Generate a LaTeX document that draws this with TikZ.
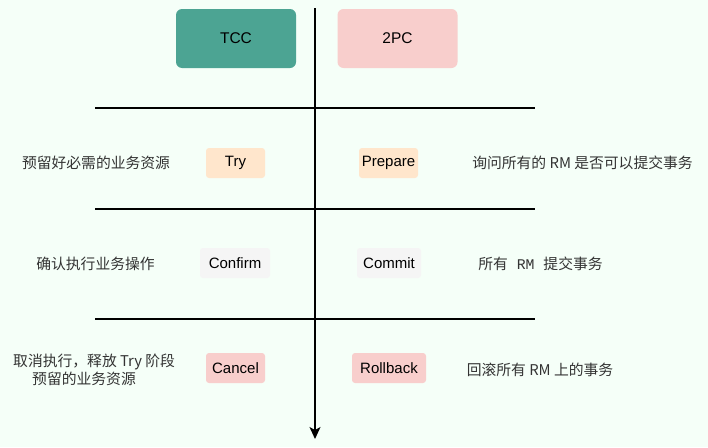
\documentclass[tikz,border=0pt]{standalone}
\usepackage{fontspec}
\setmainfont{Liberation Sans}
\setmonofont{Liberation Mono}
\newfontfamily\cjk{Noto Sans CJK SC}
\usetikzlibrary{arrows.meta}
\definecolor{bgc}{HTML}{F5FFF8}
\definecolor{tealc}{HTML}{4CA493}
\definecolor{pinkc}{HTML}{F8CECC}
\definecolor{peachc}{HTML}{FFE6CC}
\definecolor{grayc}{HTML}{F5F5F5}
\definecolor{txtc}{HTML}{333333}
\tikzset{
  head/.style={rounded corners=6pt, minimum width=120pt, minimum height=59pt, inner sep=0pt, font=\fontsize{15.5}{18}\selectfont},
  opbox/.style={rounded corners=3pt, minimum height=30pt, inner sep=0pt, font=\fontsize{15}{18}\selectfont},
  desc/.style={font=\cjk\fontsize{14.8}{18.5}\selectfont, text=txtc, align=center, inner sep=0pt},
  sep/.style={line width=1.4pt},
}
\begin{document}
\begin{tikzpicture}[x=1pt,y=-1pt]
\fill[bgc] (0,0) rectangle (708,447);
\useasboundingbox (0,0) rectangle (708,447);
% headers
\node[head, fill=tealc] (tcc) at (236,38.5) {TCC};
\node[head, fill=pinkc] (pc) at (397.5,38.5) {2PC};
% axis
\coordinate (top) at (315,8);
\coordinate (bot) at (315,439);
\draw[line width=1.4pt, -{Stealth[length=12pt,width=11pt,inset=3pt]}] (top) -- (bot);
% separators
\coordinate (l1a) at (95,108); \coordinate (l1b) at (535,108);
\coordinate (l2a) at (95,209); \coordinate (l2b) at (535,209);
\coordinate (l3a) at (95,319); \coordinate (l3b) at (535,319);
\draw[sep] (l1a) -- (l1b);
\draw[sep] (l2a) -- (l2b);
\draw[sep] (l3a) -- (l3b);
% row 1
\node[opbox, fill=peachc, minimum width=59pt] (try) at (235.5,163) {Try};
\node[opbox, fill=peachc, minimum width=59pt] (prep) at (388.5,163) {Prepare};
\node[desc] (d1l) at (96,162.5) {预留好必需的业务资源};
\node[desc] (d1r) at (582.5,162.5) {询问所有的 RM 是否可以提交事务};
% row 2
\node[opbox, fill=grayc, minimum width=70pt] (conf) at (235,263) {Confirm};
\node[opbox, fill=grayc, minimum width=64pt] (comm) at (389,263) {Commit};
\node[desc] (d2l) at (95.5,263.5) {确认执行业务操作};
\node[desc] (d2r) at (540.5,264) {所有{\ttfamily\ RM\ }提交事务};
% row 3
\node[opbox, fill=pinkc, minimum width=59pt] (canc) at (235.5,368) {Cancel};
\node[opbox, fill=pinkc, minimum width=74pt] (roll) at (389,368) {Rollback};
\node[desc, align=left, anchor=west] (d3l) at (13,370) {取消执行，释放 Try 阶段\\\hspace*{19pt}预留的业务资源};
\node[desc] (d3r) at (540,369.5) {回滚所有 RM 上的事务};
\end{tikzpicture}
\end{document}
